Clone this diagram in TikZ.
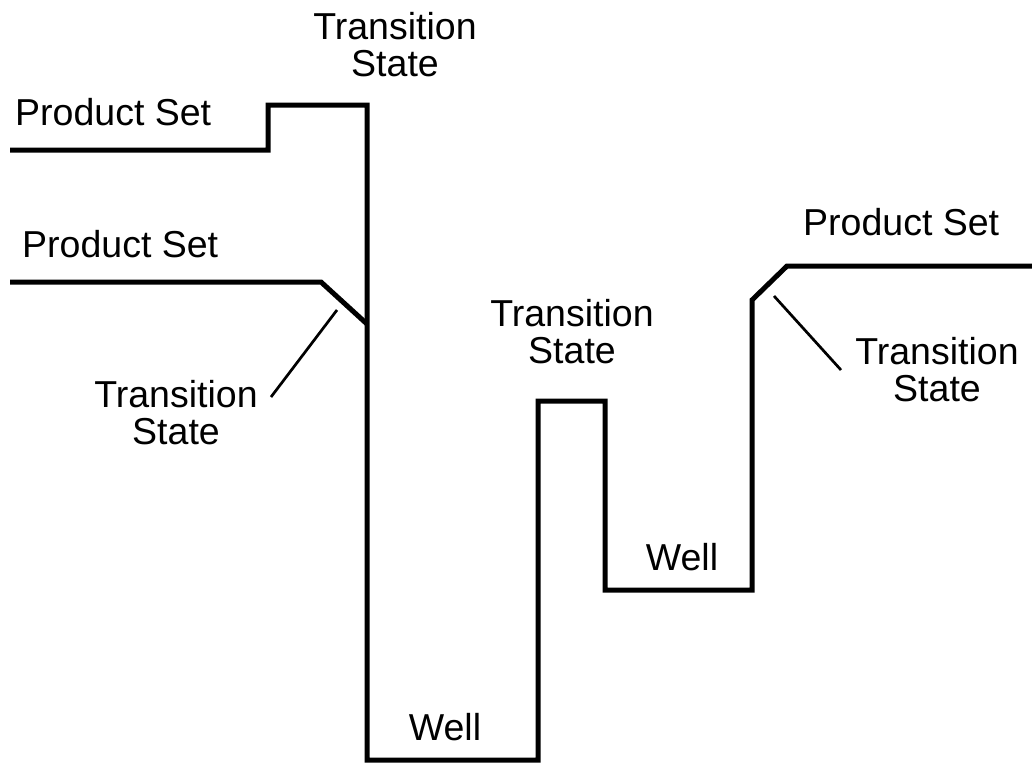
\documentclass[tikz,border=0pt]{standalone}
\usepackage{fontspec}
\setmainfont{Liberation Sans}
\usetikzlibrary{positioning}
\tikzstyle{label} = [inner sep=0pt, align=center,
                     font=\fontsize{37.5}{37}\selectfont]
\tikzstyle{level} = [line width=5pt, line join=miter]
\tikzstyle{leader} = [line width=2.7pt]

\begin{document}
\begin{tikzpicture}[x=1pt, y=-1pt]
        \useasboundingbox (0,0) rectangle (1032,764);

        % energy profile
        \draw [level] (10,150) -- (268,150) -- (268,105) -- (367,105)
              -- (367,760) -- (538,760) -- (538,401) -- (605,401)
              -- (605,590) -- (752,590) -- (752,300) -- (787,266) -- (1032,266);
        \draw [level] (10,282) -- (321,282) -- (367,324); %second product set

        % labels
        \node (ProductA) [label, anchor=base west] at (15,125) {Product Set};
        \node (ProductB) [label, anchor=base west] at (22,257) {Product Set};
        \node (ProductC) [label, anchor=base west] at (803,235) {Product Set};
        \node (TransA) [label] at (395,45) {Transition\\State};
        \node (TransB) [label] at (176,413) {Transition\\State};
        \node (TransC) [label] at (572,332) {Transition\\State};
        \node (TransD) [label] at (937,370) {Transition\\State};
        \node (WellA) [label, anchor=base] at (445,740) {Well};
        \node (WellB) [label, anchor=base] at (682,570) {Well};

        % leaders
        \coordinate (TipB) at (337,310);
        \coordinate (FootB) at (271,397);
        \coordinate (TipD) at (774,296);
        \coordinate (FootD) at (841,370);
        \draw [leader] (TipB) -- (FootB); %left transition state
        \draw [leader] (TipD) -- (FootD); %right transition state

\end{tikzpicture}
\end{document}
